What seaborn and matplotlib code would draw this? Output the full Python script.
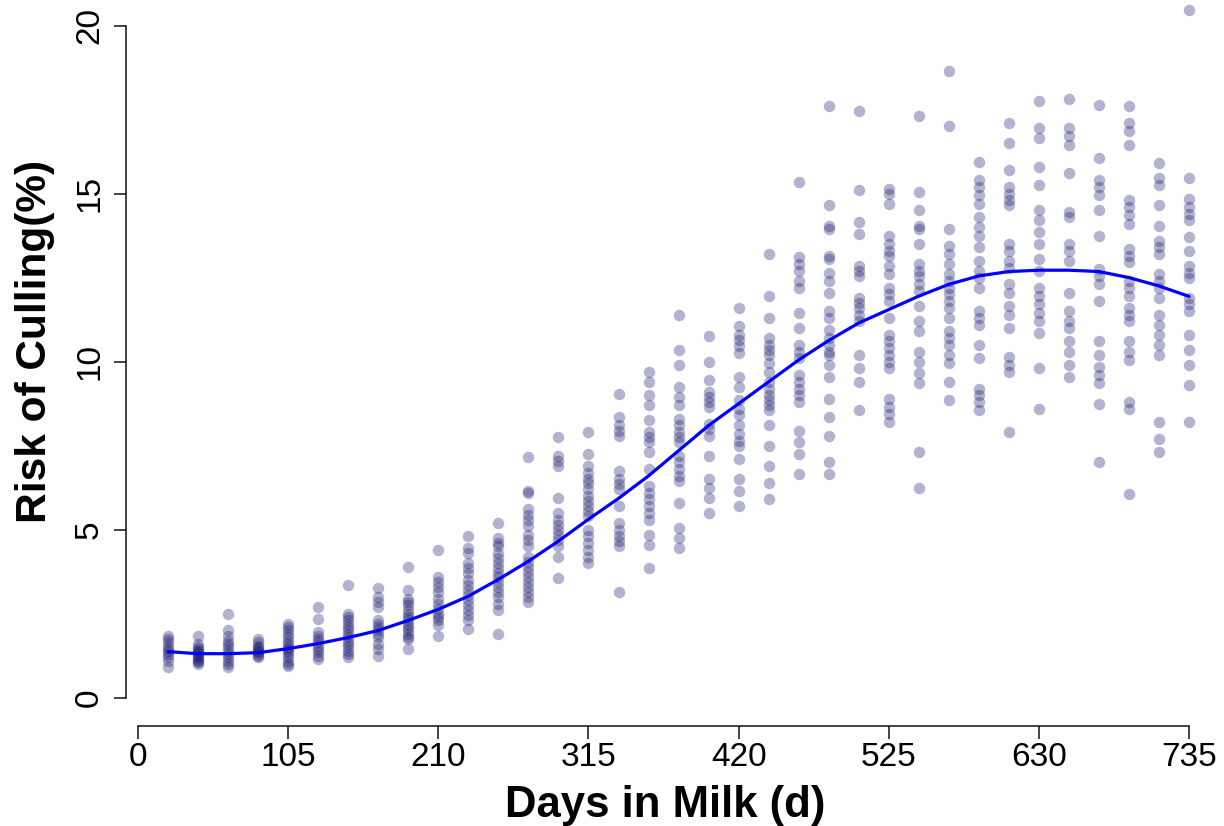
import numpy as np
import pandas as pd
import matplotlib
matplotlib.use("Agg")
import matplotlib.pyplot as plt
import seaborn as sns

# ---- data: risk of culling (%) observed at each day-in-milk column ----
d021 = [1.85, 1.75, 1.65, 1.55, 1.45, 1.4, 1.3, 1.2, 1.1, 0.9]
d042 = [1.85, 1.6, 1.5, 1.45, 1.4, 1.35, 1.3, 1.25, 1.2, 1.15, 1.1, 1.05, 1.0]
d063 = [2.5, 2.0, 1.85, 1.7, 1.6, 1.5, 1.4, 1.3, 1.2, 1.1, 1.0, 0.9]
d084 = [1.75, 1.65, 1.55, 1.5, 1.45, 1.4, 1.35, 1.3, 1.25, 1.2]
d105 = [2.2, 2.1, 2.0, 1.9, 1.8, 1.7, 1.6, 1.5, 1.45, 1.4, 1.3, 1.2, 1.1, 1.0, 0.95]
d126 = [2.7, 2.35, 1.95, 1.85, 1.75, 1.65, 1.55, 1.45, 1.35, 1.25, 1.15]
d147 = [3.35, 2.5, 2.4, 2.3, 2.2, 2.1, 2.0, 1.9, 1.8, 1.7, 1.6, 1.5, 1.4, 1.3, 1.2]
d168 = [3.25, 3.0, 2.85, 2.7, 2.3, 2.2, 2.1, 2.0, 1.9, 1.8, 1.6, 1.45, 1.25]
d189 = [3.9, 3.2, 2.95, 2.85, 2.75, 2.6, 2.5, 2.4, 2.3, 2.2, 2.1, 2.0, 1.9, 1.8, 1.75, 1.45]
d210 = [4.4, 3.6, 3.45, 3.3, 3.15, 2.95, 2.8, 2.65, 2.5, 2.4, 2.3, 2.15, 1.85]
d231 = [4.8, 4.45, 4.3, 4.0, 3.85, 3.7, 3.5, 3.35, 3.2, 3.05, 2.9, 2.75, 2.6, 2.45, 2.3, 2.05]
d252 = [5.2, 4.75, 4.6, 4.5, 4.3, 4.15, 4.0, 3.85, 3.7, 3.6, 3.45, 3.3, 3.15, 3.0, 2.8, 2.6, 1.9]
d273 = [7.15, 6.15, 6.1, 5.6, 5.45, 5.3, 5.1, 4.85, 4.7, 4.5, 4.2, 4.05, 3.9, 3.75, 3.6,
        3.45, 3.3, 3.15, 3.0, 2.85]
d294 = [7.75, 7.2, 7.05, 6.9, 5.95, 5.5, 5.3, 5.15, 5.0, 4.85, 4.7, 4.5, 4.2, 3.55]
d315 = [7.9, 7.25, 6.9, 6.7, 6.5, 6.4, 6.2, 6.0, 5.85, 5.7, 5.55, 5.4, 5.0, 4.8, 4.6, 4.4, 4.2, 4.0]
d336 = [9.05, 8.35, 8.1, 7.95, 7.8, 6.75, 6.5, 6.35, 6.2, 5.7, 5.2, 5.0, 4.8, 4.65, 4.5, 3.15]
d357 = [9.7, 9.4, 9.0, 8.7, 8.25, 7.9, 7.75, 7.6, 7.3, 6.8, 6.3, 6.1, 5.9, 5.7, 5.5, 5.3,
        4.85, 4.55, 3.85]
d378 = [11.4, 10.35, 9.9, 9.25, 8.95, 8.7, 8.3, 8.1, 7.9, 7.75, 7.6, 7.2, 7.0, 6.8, 6.6,
        6.45, 5.8, 5.05, 4.75, 4.45]
d399 = [10.75, 10.0, 9.45, 9.1, 8.95, 8.8, 8.65, 8.15, 8.0, 7.8, 7.2, 6.5, 6.25, 5.95, 5.5]
d420 = [11.6, 11.05, 10.8, 10.65, 10.45, 10.25, 9.55, 9.25, 8.85, 8.6, 8.4, 8.1, 7.85, 7.65,
        7.5, 7.1, 6.5, 6.15, 5.7]
d441 = [13.2, 11.95, 11.3, 10.7, 10.5, 10.35, 10.2, 9.95, 9.7, 9.4, 9.2, 9.0, 8.85, 8.7,
        8.55, 8.1, 7.5, 6.9, 6.4, 5.9]
d462 = [15.35, 13.1, 12.9, 12.7, 12.4, 12.2, 11.45, 11.0, 10.5, 10.3, 10.1, 9.6, 9.4, 9.2,
        9.0, 8.8, 7.95, 7.6, 7.25, 6.65]
d483 = [17.6, 14.65, 14.05, 13.95, 13.15, 13.05, 12.65, 12.4, 12.05, 11.5, 11.3, 10.95,
        10.7, 10.5, 10.3, 10.2, 9.9, 9.55, 8.9, 8.35, 7.8, 7.0, 6.65]
d504 = [17.45, 15.1, 14.15, 13.8, 12.85, 12.7, 12.55, 11.9, 11.75, 11.6, 11.4, 11.2, 10.2,
        9.8, 9.4, 8.55]
d525 = [15.15, 15.0, 14.7, 13.75, 13.5, 13.3, 13.15, 12.85, 12.6, 12.2, 12.0, 11.8, 11.3,
        10.8, 10.6, 10.4, 10.2, 10.0, 9.8, 8.9, 8.65, 8.45, 8.2]
d546 = [17.3, 15.05, 14.5, 14.05, 13.95, 13.5, 12.9, 12.7, 12.55, 12.3, 12.1, 11.65, 11.2,
        10.9, 10.3, 10.0, 9.65, 9.35, 7.3, 6.25]
d567 = [18.65, 17.0, 13.95, 13.45, 13.2, 12.9, 12.6, 12.4, 12.2, 12.0, 11.8, 11.6, 11.3,
        10.9, 10.7, 10.5, 10.2, 9.95, 9.4, 8.85]
d588 = [15.95, 15.4, 15.2, 14.95, 14.7, 14.3, 14.0, 13.75, 13.4, 13.0, 12.7, 12.5, 12.2,
        11.5, 11.3, 11.1, 10.5, 10.1, 9.2, 9.0, 8.8, 8.55]
d609 = [17.1, 16.5, 15.7, 15.2, 15.0, 14.8, 14.65, 13.5, 13.3, 13.0, 12.8, 12.3, 12.05,
        11.65, 11.4, 11.0, 10.15, 9.9, 9.7, 7.9]
d630 = [17.75, 16.95, 16.65, 15.8, 15.25, 14.5, 14.2, 13.85, 13.5, 13.05, 12.7, 12.2, 11.95,
        11.7, 11.45, 11.2, 10.85, 9.8, 8.6]
d651 = [17.8, 16.95, 16.7, 16.45, 15.6, 14.45, 14.3, 13.5, 13.3, 13.0, 12.05, 11.5, 11.2,
        11.0, 10.6, 10.3, 9.9, 9.55]
d672 = [17.65, 16.05, 15.4, 15.2, 14.95, 14.5, 13.75, 12.75, 12.55, 12.3, 11.8, 10.6, 10.2,
        9.85, 9.6, 9.35, 8.75, 7.0]
d693 = [17.6, 17.1, 16.85, 16.45, 14.8, 14.6, 14.35, 14.1, 13.35, 13.15, 12.95, 12.4, 12.2,
        11.95, 11.6, 11.4, 11.2, 10.6, 10.3, 10.05, 8.8, 8.6, 6.05]
d714 = [15.9, 15.45, 15.25, 14.65, 14.05, 13.6, 13.4, 13.2, 12.6, 12.4, 12.2, 11.9, 11.4,
        11.1, 10.8, 10.5, 10.2, 8.2, 7.7, 7.3]
d735 = [20.45, 15.45, 14.85, 14.6, 14.4, 14.2, 13.7, 13.3, 12.85, 12.65, 12.5, 11.9, 11.7,
        11.5, 10.8, 10.35, 9.9, 9.3, 8.2]

day_columns = [21, 42, 63, 84, 105, 126, 147, 168, 189, 210, 231, 252, 273, 294, 315,
               336, 357, 378, 399, 420, 441, 462, 483, 504, 525, 546, 567, 588, 609,
               630, 651, 672, 693, 714, 735]
column_values = [d021, d042, d063, d084, d105, d126, d147, d168, d189, d210, d231, d252,
                 d273, d294, d315, d336, d357, d378, d399, d420, d441, d462, d483, d504,
                 d525, d546, d567, d588, d609, d630, d651, d672, d693, d714, d735]

# fitted smooth curve, read at each column
fit_risk = [1.37, 1.31, 1.31, 1.34, 1.46, 1.61, 1.79, 2.0, 2.3, 2.63, 3.02, 3.52, 4.06,
            4.66, 5.31, 5.93, 6.6, 7.35, 8.1, 8.75, 9.4, 10.05, 10.63, 11.15, 11.55,
            11.95, 12.3, 12.55, 12.68, 12.72, 12.72, 12.68, 12.5, 12.25, 11.94]

xticks = [0, 105, 210, 315, 420, 525, 630, 735]
yticks = [0, 5, 10, 15, 20]

pts = pd.DataFrame({
    "day": [d for d, vals in zip(day_columns, column_values) for _ in vals],
    "risk": [v for vals in column_values for v in vals],
})
fit = pd.DataFrame({"day": day_columns, "risk": fit_risk})

sns.set_theme(style="white")
plt.rcParams["font.family"] = ["Liberation Sans", "DejaVu Sans"]

W, H = 1224, 826
fig = plt.figure(figsize=(W / 100, H / 100), dpi=100)
ax = fig.add_axes([126 / W, (H - 725.7) / H, (W - 126) / W, 725.7 / H])

sns.scatterplot(data=pts, x="day", y="risk", ax=ax, color="#191970", alpha=0.33,
                s=68, linewidth=0, legend=False)
sns.lineplot(data=fit, x="day", y="risk", ax=ax, color="#0000ff", linewidth=2.3,
             legend=False)

ax.set_xlim(-8.4, 759.4)
ax.set_ylim(-0.833, 20.76)
ax.set_xticks(xticks)
ax.set_yticks(yticks)
ax.set_xticklabels([str(t) for t in xticks], fontsize=24, color="black")
ax.set_yticklabels([str(t) for t in yticks], fontsize=24, rotation=90, va="center",
                   color="black")

for side in ["top", "right"]:
    ax.spines[side].set_visible(False)
ax.spines["left"].set_bounds(0, 20)
ax.spines["bottom"].set_bounds(0, 735)
for side in ["left", "bottom"]:
    ax.spines[side].set_color("#111111")
    ax.spines[side].set_linewidth(1.1)
ax.tick_params(axis="both", which="major", length=9, width=1.1, color="#111111",
               direction="out", bottom=True, left=True)
ax.tick_params(axis="x", pad=3)
ax.tick_params(axis="y", pad=6)

ax.set_xlabel("Days in Milk (d)", fontsize=31.5, fontweight="bold", color="black")
ax.set_ylabel("Risk of Culling(%)", fontsize=30.5, fontweight="bold", color="black")
ax.xaxis.set_label_coords((665 - 126) / (W - 126), (H - 805 - (H - 725.7)) / 725.7)
ax.xaxis.label.set_va("center")
ax.yaxis.set_label_coords((35 - 126) / (W - 126), (H - 341 - (H - 725.7)) / 725.7)
ax.yaxis.label.set_va("center")

fig.savefig("out.png", dpi=100)
